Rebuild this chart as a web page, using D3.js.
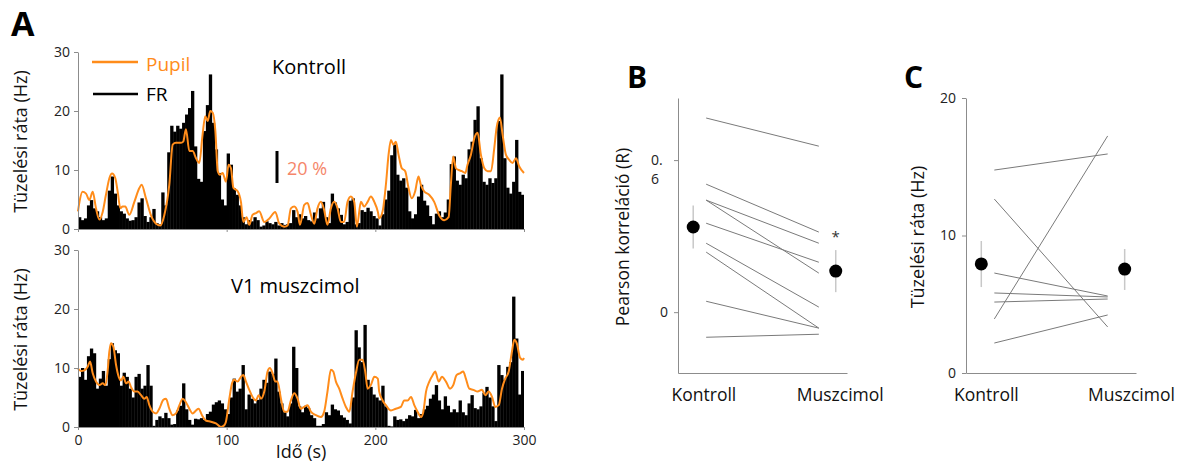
<!DOCTYPE html>
<html>
<head>
<meta charset="utf-8">
<script src="https://cdn.jsdelivr.net/npm/d3@7"></script>
<style>
  body { margin: 0; background: #fff; }
  svg { font-family: 'Open Sans', sans-serif; }
  .axis path, .axis line { stroke: #8c8c8c; }
  .axis text { font-size: 14px; fill: #222; font-family: 'Open Sans', sans-serif; }
</style>
</head>
<body>
<svg width="1185" height="464"></svg>
<script>
// firing rate, 2 s bins, 0-300 s
const binSize = 2
const frKontroll = [
  2.0, 1.5, 1.8, 4.0, 4.9, 3.5, 3.0, 2.0, 1.5, 1.8,
  6.5, 8.9, 6.0, 4.0, 3.0, 2.6, 1.8, 1.4, 1.5, 2.0,
  4.5, 5.2, 2.2, 1.2, 2.0, 3.4, 1.0, 0.8, 6.2, 4.0,
  13.0, 17.5, 16.5, 17.5, 17.0, 18.0, 19.4, 20.5, 23.4, 14.0,
  8.5, 8.0, 16.6, 21.0, 26.2, 18.0, 13.5, 9.5, 5.0, 4.0,
  12.8, 10.9, 6.9, 5.8, 4.0, 2.0, 0.8, 1.5, 1.3, 2.0,
  1.5, 0.4, 0.6, 1.3, 1.0, 0.8, 1.2, 0.6, 1.0, 0.7,
  0.8, 1.0, 3.2, 2.0, 2.5, 1.8, 2.2, 1.5, 1.3, 2.8,
  1.8, 3.5, 4.6, 2.0, 1.0, 6.0, 4.5, 3.5, 2.4, 0.8,
  1.2, 4.8, 5.2, 0.8, 1.0, 3.2, 2.9, 3.6, 3.0, 2.2,
  1.8, 0.6, 2.5, 5.0, 6.5, 12.5, 14.3, 9.2, 8.2, 8.6,
  7.0, 3.0, 1.8, 2.5, 5.5, 7.5, 4.8, 4.0, 2.2, 0.8,
  2.6, 3.0, 2.0, 2.8, 5.0, 11.0, 12.3, 8.2, 7.5, 9.2,
  8.6, 13.5, 14.8, 18.5, 20.8, 12.0, 8.0, 7.5, 8.6, 7.8,
  8.6, 18.3, 26.2, 12.0, 7.0, 6.0, 8.0, 15.1, 6.3, 5.8
]
const frMuszcimol = [
  8.5, 10.0, 8.0, 12.0, 13.3, 12.5, 6.5, 8.2, 9.5, 7.0,
  11.5, 14.2, 13.0, 12.5, 7.0, 9.2, 8.5, 6.5, 5.0, 8.5,
  9.0, 6.5, 7.0, 10.5, 7.0, 0.2, 1.2, 1.8, 1.5, 2.4,
  1.5, 0.4, 0.5, 2.8, 3.6, 7.4, 3.0, 1.2, 0.4, 1.4,
  1.3, 1.5, 1.2, 2.2, 2.6, 3.8, 4.2, 4.5, 4.0, 3.0,
  2.2, 5.0, 8.2, 6.0, 6.5, 10.5, 3.0, 5.5, 4.8, 4.0,
  4.6, 6.5, 8.0, 7.5, 9.4, 9.0, 11.6, 6.0, 4.0, 2.5,
  1.8, 4.0, 13.6, 10.0, 3.5, 2.5, 3.6, 3.2, 2.0, 1.5,
  0.2, 0.2, 0.5, 2.5, 2.0, 3.8, 3.0, 2.8, 2.0, 1.6,
  1.2, 0.6, 5.0, 16.4, 13.5, 11.0, 17.3, 8.0, 6.8, 5.5,
  5.0, 4.5, 7.0, 3.5, 0.2, 0.1, 1.8, 1.2, 1.3, 1.0,
  1.4, 2.0, 1.8, 2.9, 1.5, 2.2, 3.0, 3.6, 4.8, 5.5,
  7.1, 4.5, 3.0, 5.2, 3.6, 2.5, 3.0, 2.5, 4.5, 2.5,
  2.0, 4.0, 5.4, 3.2, 3.0, 3.5, 5.8, 6.8, 5.0, 3.5,
  1.0, 10.5, 8.8, 8.0, 10.2, 11.0, 22.1, 15.0, 5.5, 9.5
]

// pupil trace (drawn on the same axis)
const pupilKontrollT = [
  0, 1, 3, 5.4, 7.6, 9.9, 12.1, 14.4, 16.6, 18.8, 21.1, 22.9, 25.1, 26.7, 28.5, 30, 31.8, 34.5, 37.9, 41.2,
  42.8, 45.7, 49.1, 52.5, 55.4, 58, 61.4, 63.7, 65.9, 69.3, 70.8, 72.6, 74.9, 77.1, 79.4, 81.6, 83.8, 85.6, 87.2, 89,
  90.6, 92.4, 94, 95.5, 97.3, 99.5, 101.3, 102.9, 104.5, 107.4, 109.6, 111.2, 113.4, 115.2, 117.4, 119.7, 121.9, 125.3, 128.7, 132.7,
  135.4, 138.8, 141, 143.2, 145.5, 147.7, 149.3, 152.2, 154.4, 156.7, 158.9, 161.1, 163.4, 165.6, 167.8, 170.1, 172.3, 174.6, 176.8, 179,
  181.3, 183.5, 185.8, 187.6, 190.3, 192.5, 194.8, 197, 199.3, 201.7, 202.6, 204.9, 207.1, 208.9, 210.5, 212.1, 213.8, 215.6, 217.8, 220.1,
  222.3, 224.5, 226.8, 229, 230.6, 232.8, 236.2, 239.6, 243, 246.4, 249.3, 250.8, 252.4, 254.2, 256, 258.2, 260.5, 262, 264.3, 266.6,
  268.8, 271, 273.3, 275.5, 277.8, 280, 281.6, 283.8, 285.6, 287.8, 290.1, 292.3, 294.6, 296.8, 300
]
const pupilKontroll = [
  3.0, 4.6, 6.3, 6.0, 4.9, 6.3, 3.5, 1.6, 2.9, 5.8, 8.6, 9.4, 8.6, 6.3, 3.5, 3.8, 3.8, 2.4, 4.6, 6.9,
  7.5, 5.2, 2.3, 0.9, 0.6, 2.3, 7.5, 14.3, 14.6, 14.6, 14.8, 16.9, 13.2, 13.2, 12.0, 11.2, 16.0, 19.1, 18.3, 20.0,
  19.7, 16.6, 9.8, 9.2, 9.5, 8.0, 10.9, 10.3, 7.0, 6.4, 4.6, 1.2, 2.0, 0.7, 2.4, 2.7, 3.0, 1.2, 1.8, 2.9,
  0.9, 0.4, 0.6, 3.5, 3.8, 2.9, 0.7, 4.1, 4.4, 2.4, 0.9, 3.5, 4.6, 3.2, 0.7, 3.5, 4.6, 3.5, 1.2, 1.2,
  4.6, 5.5, 4.6, 0.4, 4.6, 3.8, 4.6, 5.5, 4.6, 2.9, 1.8, 3.0, 7.5, 12.6, 15.1, 14.3, 14.8, 12.6, 10.3, 9.8,
  7.0, 5.2, 6.4, 8.9, 7.5, 6.4, 5.8, 4.6, 2.3, 1.5, 2.0, 7.5, 12.3, 10.3, 10.0, 9.8, 9.5, 10.9, 12.6, 15.4,
  16.3, 12.6, 10.3, 9.8, 9.8, 13.7, 17.2, 18.9, 16.0, 12.6, 11.7, 11.2, 12.0, 10.6, 9.5
]
const pupilMuszcimolT = [
  0, 2, 4.3, 6.5, 8.1, 9.9, 12.1, 14.4, 16.6, 18.4, 19.9, 21.1, 22.2, 23.8, 25.6, 27.4, 28.9, 30.5, 32.3, 34.1,
  35.6, 37.9, 40.1, 42.4, 44.6, 46.2, 48, 50.2, 52.5, 54.7, 57.4, 59.2, 61.4, 63.7, 65.9, 68.2, 70.4, 72.6, 74.9, 77.1,
  79.4, 81.1, 83.4, 86, 89.4, 92.8, 96.2, 98.4, 99.5, 101.8, 103.6, 105.1, 107.4, 109.6, 111.2, 113, 115.2, 117.4, 119.7, 121.5,
  123.1, 125.3, 127.5, 129.1, 130.9, 132.7, 134.2, 136.5, 138.7, 140.9, 143.2, 145.5, 147.7, 149.8, 152.1, 154.4, 156.6, 160, 163.4, 165.6,
  167.8, 170.1, 171.7, 173.5, 175.7, 178, 180.2, 182.5, 184.7, 186.9, 189.2, 191.4, 193.2, 194.8, 197, 199.3, 201.7, 202.6, 204.9, 207.1,
  210.5, 213.8, 217.2, 219.4, 221.7, 224, 226.2, 228.4, 230.7, 232.3, 234.1, 236.3, 238.6, 240.3, 242.6, 244.8, 247.5, 250.2, 252.4, 254.6,
  256.9, 259.1, 260.9, 263.2, 265.9, 268.8, 271.7, 274, 276.2, 278.5, 280.7, 283, 285.2, 287.4, 289.7, 291.9, 293.5, 295.1, 297.4, 299.2, 300
]
const pupilMuszcimol = [
  9.9, 9.5, 9.6, 10.2, 11.1, 9.1, 7.7, 7.1, 7.4, 7.1, 9.4, 12.8, 14.2, 13.6, 10.5, 8.5, 7.9, 8.5, 7.4, 7.7,
  6.8, 6.0, 6.0, 5.4, 4.8, 5.1, 3.7, 2.6, 2.3, 3.1, 4.6, 4.8, 3.1, 2.0, 2.3, 3.7, 4.8, 4.2, 3.1, 2.3,
  2.8, 3.1, 2.0, 1.1, 0.9, 0.6, 0.0, 0.3, 0.9, 4.8, 7.4, 8.0, 7.7, 8.5, 8.8, 7.7, 6.3, 5.1, 4.5, 5.4,
  4.8, 6.0, 9.4, 10.0, 9.1, 7.7, 7.7, 4.8, 2.6, 2.6, 4.5, 5.7, 4.8, 3.1, 3.4, 3.7, 2.6, 2.0, 1.7, 2.6,
  6.0, 9.7, 9.4, 7.7, 6.5, 4.8, 3.4, 2.6, 6.0, 9.1, 11.4, 11.4, 9.4, 6.5, 7.1, 8.5, 8.2, 6.0, 4.5, 3.7,
  2.8, 3.1, 3.4, 4.5, 4.5, 5.1, 3.7, 2.6, 1.7, 2.6, 6.0, 7.7, 8.8, 9.4, 7.7, 8.5, 7.7, 6.5, 7.1, 8.8,
  9.1, 9.4, 8.2, 6.5, 6.3, 6.0, 6.3, 5.4, 6.0, 5.1, 3.4, 3.7, 6.5, 8.2, 9.4, 12.8, 14.8, 14.2, 11.7, 11.4, 11.7
]
const timeTicks = [0, 100, 200, 300]
const rateTicks = [0, 10, 20, 30]

// panel B: Pearson R per cell, Kontroll -> Muszcimol
const corrKontroll = [0.766, 0.505, 0.442, 0.442, 0.351, 0.272, 0.237, 0.043, -0.099]
const corrMuszcimol = [0.655, 0.316, 0.272, 0.154, 0.197, 0.020, -0.063, -0.063, -0.087]
const corrMean = [0.336, 0.162]
const corrErr = [[0.251, 0.421], [0.079, 0.245]]

// panel C: firing rate per cell
const rateKontroll = [14.76, 12.65, 3.93, 7.27, 5.82, 5.16, 2.18]
const rateMuszcimol = [15.93, 3.35, 17.24, 5.60, 5.53, 5.38, 4.22]
const rateMean = [7.93, 7.56]
const rateErr = [[6.25, 9.6], [6.04, 9.02]]

const conditions = ['Kontroll', 'Muszcimol']

const svg = d3.select('svg')
const orange = '#ff8c1a'

// ---------- panel A ----------
const xA = d3.scaleLinear().domain([0, 300]).range([78, 524])
const yTop = d3.scaleLinear().domain([0, 30]).range([229, 52])
const yBot = d3.scaleLinear().domain([0, 30]).range([427, 250])

const drawTrace = (y, fr, pt, pv, showTimeLabels) => {
  const g = svg.append('g')
  const bw = xA(binSize) - xA(0)

  g.selectAll('rect').data(fr).join('rect')
    .attr('x', (d, i) => xA(i * binSize))
    .attr('y', d => y(d))
    .attr('width', (d, i) => i === fr.length - 1 ? bw : bw + 0.35)
    .attr('height', d => y(0) - y(d))
    .attr('fill', '#000')

  const pts = pt.map((t, i) => [t, pv[i]])
  const line = d3.line()
    .x(d => xA(d[0]))
    .y(d => y(d[1]))
    .curve(d3.curveMonotoneX)

  g.append('path')
    .attr('d', line(pts))
    .attr('fill', 'none')
    .attr('stroke', orange)
    .attr('stroke-width', 2)

  g.append('g').attr('class', 'axis')
    .attr('transform', `translate(${xA(0)},0)`)
    .call(d3.axisLeft(y).tickValues(rateTicks).tickSize(4).tickSizeOuter(0).tickPadding(4))

  g.append('g').attr('class', 'axis')
    .attr('transform', `translate(0,${y(0)})`)
    .call(d3.axisBottom(xA).tickValues(timeTicks).tickSize(3).tickSizeOuter(0).tickPadding(5)
      .tickFormat(showTimeLabels ? d3.format('d') : ''))

  g.append('text')
    .attr('transform', `translate(27,${(y(0) + y(30)) / 2 + 1}) rotate(-90)`)
    .attr('text-anchor', 'middle')
    .attr('font-size', 18)
    .attr('fill', '#111')
    .text('Tüzelési ráta (Hz)')
}

drawTrace(yTop, frKontroll, pupilKontrollT, pupilKontroll, false)
drawTrace(yBot, frMuszcimol, pupilMuszcimolT, pupilMuszcimol, true)

svg.append('text').attr('x', 11).attr('y', 36)
  .attr('font-size', 34).attr('font-weight', 'bold').attr('fill', '#000').text('A')

// legend
svg.append('line').attr('x1', 92).attr('x2', 138).attr('y1', 62).attr('y2', 62)
  .attr('stroke', orange).attr('stroke-width', 2.5)
svg.append('text').attr('x', 146).attr('y', 71).attr('font-size', 19).attr('fill', orange).text('Pupil')
svg.append('line').attr('x1', 93).attr('x2', 138).attr('y1', 94).attr('y2', 94)
  .attr('stroke', '#000').attr('stroke-width', 2.5)
svg.append('text').attr('x', 146).attr('y', 101).attr('font-size', 19).attr('fill', '#000').text('FR')

svg.append('text').attr('x', 272).attr('y', 74).attr('font-size', 20).attr('fill', '#000').text('Kontroll')
svg.append('text').attr('x', 231).attr('y', 293).attr('font-size', 20).attr('fill', '#000').text('V1 muszcimol')

// 20 % pupil scale bar
svg.append('line').attr('x1', 277).attr('x2', 277).attr('y1', 151).attr('y2', 183)
  .attr('stroke', '#000').attr('stroke-width', 3)
svg.append('text').attr('x', 287).attr('y', 175).attr('font-size', 18).attr('fill', '#f5866a').text('20 %')

svg.append('text').attr('x', 301).attr('y', 458).attr('text-anchor', 'middle')
  .attr('font-size', 18).attr('fill', '#111').text('Idő (s)')

// ---------- panels B and C ----------
const drawPaired = (opts) => {
  const { x0, x1, y, before, after, mean, err, yTicks, yTitle, letter, letterX } = opts
  const x = d3.scaleLinear().domain([-0.25, 1.25]).range([x0, x1])
  const g = svg.append('g')
  const [yLo] = y.domain()

  g.append('g').attr('class', 'axis')
    .attr('transform', `translate(0,${y(yLo)})`)
    .call(d3.axisBottom(x).tickValues([]).tickSizeOuter(0))

  const yAxis = g.append('g').attr('class', 'axis')
    .attr('transform', `translate(${x0},0)`)
    .call(d3.axisLeft(y).tickValues(yTicks).tickSize(4).tickSizeOuter(0).tickPadding(6)
      .tickFormat(opts.tickFormat || d3.format('d')))
  if (opts.afterAxis) opts.afterAxis(yAxis)

  g.selectAll('.pair').data(before).join('line')
    .attr('x1', x(0)).attr('x2', x(1))
    .attr('y1', d => y(d))
    .attr('y2', (d, i) => y(after[i]))
    .attr('stroke', '#7a7a7a').attr('stroke-width', 1)

  const dotX = [-0.115, 1.15]
  g.selectAll('.err').data(err).join('line')
    .attr('x1', (d, i) => x(dotX[i])).attr('x2', (d, i) => x(dotX[i]))
    .attr('y1', d => y(d[0])).attr('y2', d => y(d[1]))
    .attr('stroke', '#c8c8c8').attr('stroke-width', 1.5)
  g.selectAll('circle').data(mean).join('circle')
    .attr('cx', (d, i) => x(dotX[i]))
    .attr('cy', d => y(d))
    .attr('r', 6.5).attr('fill', '#000')

  const labelX = opts.labelX
  g.selectAll('.cat').data(conditions).join('text')
    .attr('x', (d, i) => x(labelX[i]))
    .attr('y', 401)
    .attr('text-anchor', 'middle')
    .attr('font-size', 17.5).attr('fill', '#111')
    .text(d => d)

  g.append('text')
    .attr('transform', `translate(${opts.titleX},${y(yLo) - 136}) rotate(-90)`)
    .attr('text-anchor', 'middle')
    .attr('font-size', opts.titleSize).attr('fill', '#111')
    .text(yTitle)

  svg.append('text').attr('x', letterX).attr('y', 88)
    .attr('font-size', 30).attr('font-weight', 'bold').attr('fill', '#000').text(letter)

  return { g, x, dotX }
}

const yB = d3.scaleLinear().domain([-0.24, 0.845]).range([373, 98])
const pb = drawPaired({
  x0: 678, x1: 847, y: yB,
  before: corrKontroll, after: corrMuszcimol, mean: corrMean, err: corrErr,
  yTicks: [0, 0.6], yTitle: 'Pearson korreláció (R)', letter: 'B', letterX: 627,
  titleX: 629, titleSize: 17.5, labelX: [-0.02, 1.19],
  tickFormat: d => d === 0 ? '0' : '',
  afterAxis: ax => {
    const t = ax.selectAll('.tick').filter(d => d === 0.6).select('text')
    t.attr('text-anchor', 'start').attr('x', -27).attr('dy', null)
    t.append('tspan').attr('x', -27).attr('dy', '0.3em').text('0.')
    t.append('tspan').attr('x', -27).attr('dy', '1.35em').text('6')
  }
})
pb.g.append('text')
  .attr('x', pb.x(pb.dotX[1])).attr('y', yB(corrErr[1][1]) - 8)
  .attr('text-anchor', 'middle').attr('font-size', 15).attr('fill', '#333').text('*')

const yC = d3.scaleLinear().domain([0, 20]).range([373, 98])
drawPaired({
  x0: 966, x1: 1136, y: yC,
  before: rateKontroll, after: rateMuszcimol, mean: rateMean, err: rateErr,
  yTicks: [0, 10, 20], yTitle: 'Tüzelési ráta (Hz)', letter: 'C', letterX: 904,
  titleX: 924, titleSize: 18, labelX: [-0.07, 1.21]
})
</script>
</body>
</html>
